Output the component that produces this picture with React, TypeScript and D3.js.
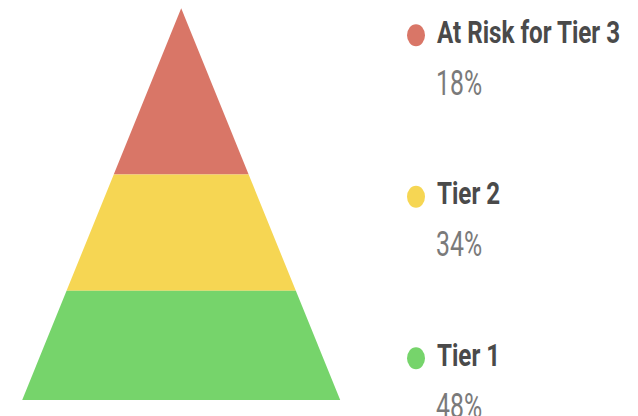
import React from "react";
import * as d3 from "d3";

const labels = ["At Risk for Tier 3", "Tier 2", "Tier 1"];
const values = [18, 34, 48];
const percentLabels = ["18%", "34%", "48%"];
const colors = ["#d97667", "#f6d653", "#76d46b"];

const W = 638;
const H = 416;

export default function App() {
  const total = d3.sum(values);
  const cum = d3.cumsum(values);
  const y = d3.scaleSqrt().domain([0, total]).range([8.3, 400]);
  const cx = 181.2;
  const halfW = d3.scaleLinear().domain([8.3, 400]).range([0, 159]);

  const segs = values.map((v, i) => {
    const y0 = y(i === 0 ? 0 : cum[i - 1]);
    const y1 = y(cum[i]);
    const pts: [number, number][] = [
      [cx - halfW(y0), y0],
      [cx + halfW(y0), y0],
      [cx + halfW(y1), y1],
      [cx - halfW(y1), y1],
    ];
    return { d: d3.line()(pts) + "Z", color: colors[i] };
  });

  const legendY = d3.scalePoint<string>().domain(labels).range([42.8, 365.8]);

  return (
    <svg
      width={W}
      height={H}
      style={{ position: "absolute", left: 0, top: 0, background: "#fff" }}
    >
      {segs.map((s, i) => (
        <path key={i} d={s.d} fill={s.color} />
      ))}
      {labels.map((l, i) => {
        const by = legendY(l)!;
        return (
          <g key={l}>
            <ellipse cx={416} cy={by - 7.5} rx={9} ry={11} fill={colors[i]} />
            <text
              transform={`translate(437,${by}) scale(0.78,1)`}
              fontFamily="Roboto"
              fontWeight={700}
              fontSize={31}
              fill="#4a4a4a"
            >
              {l}
            </text>
            <text
              transform={`translate(436,${by + 52}) scale(0.69,1)`}
              fontFamily="Roboto"
              fontWeight={400}
              fontSize={36}
              fill="#7a7a7a"
            >
              {percentLabels[i]}
            </text>
          </g>
        );
      })}
    </svg>
  );
}
